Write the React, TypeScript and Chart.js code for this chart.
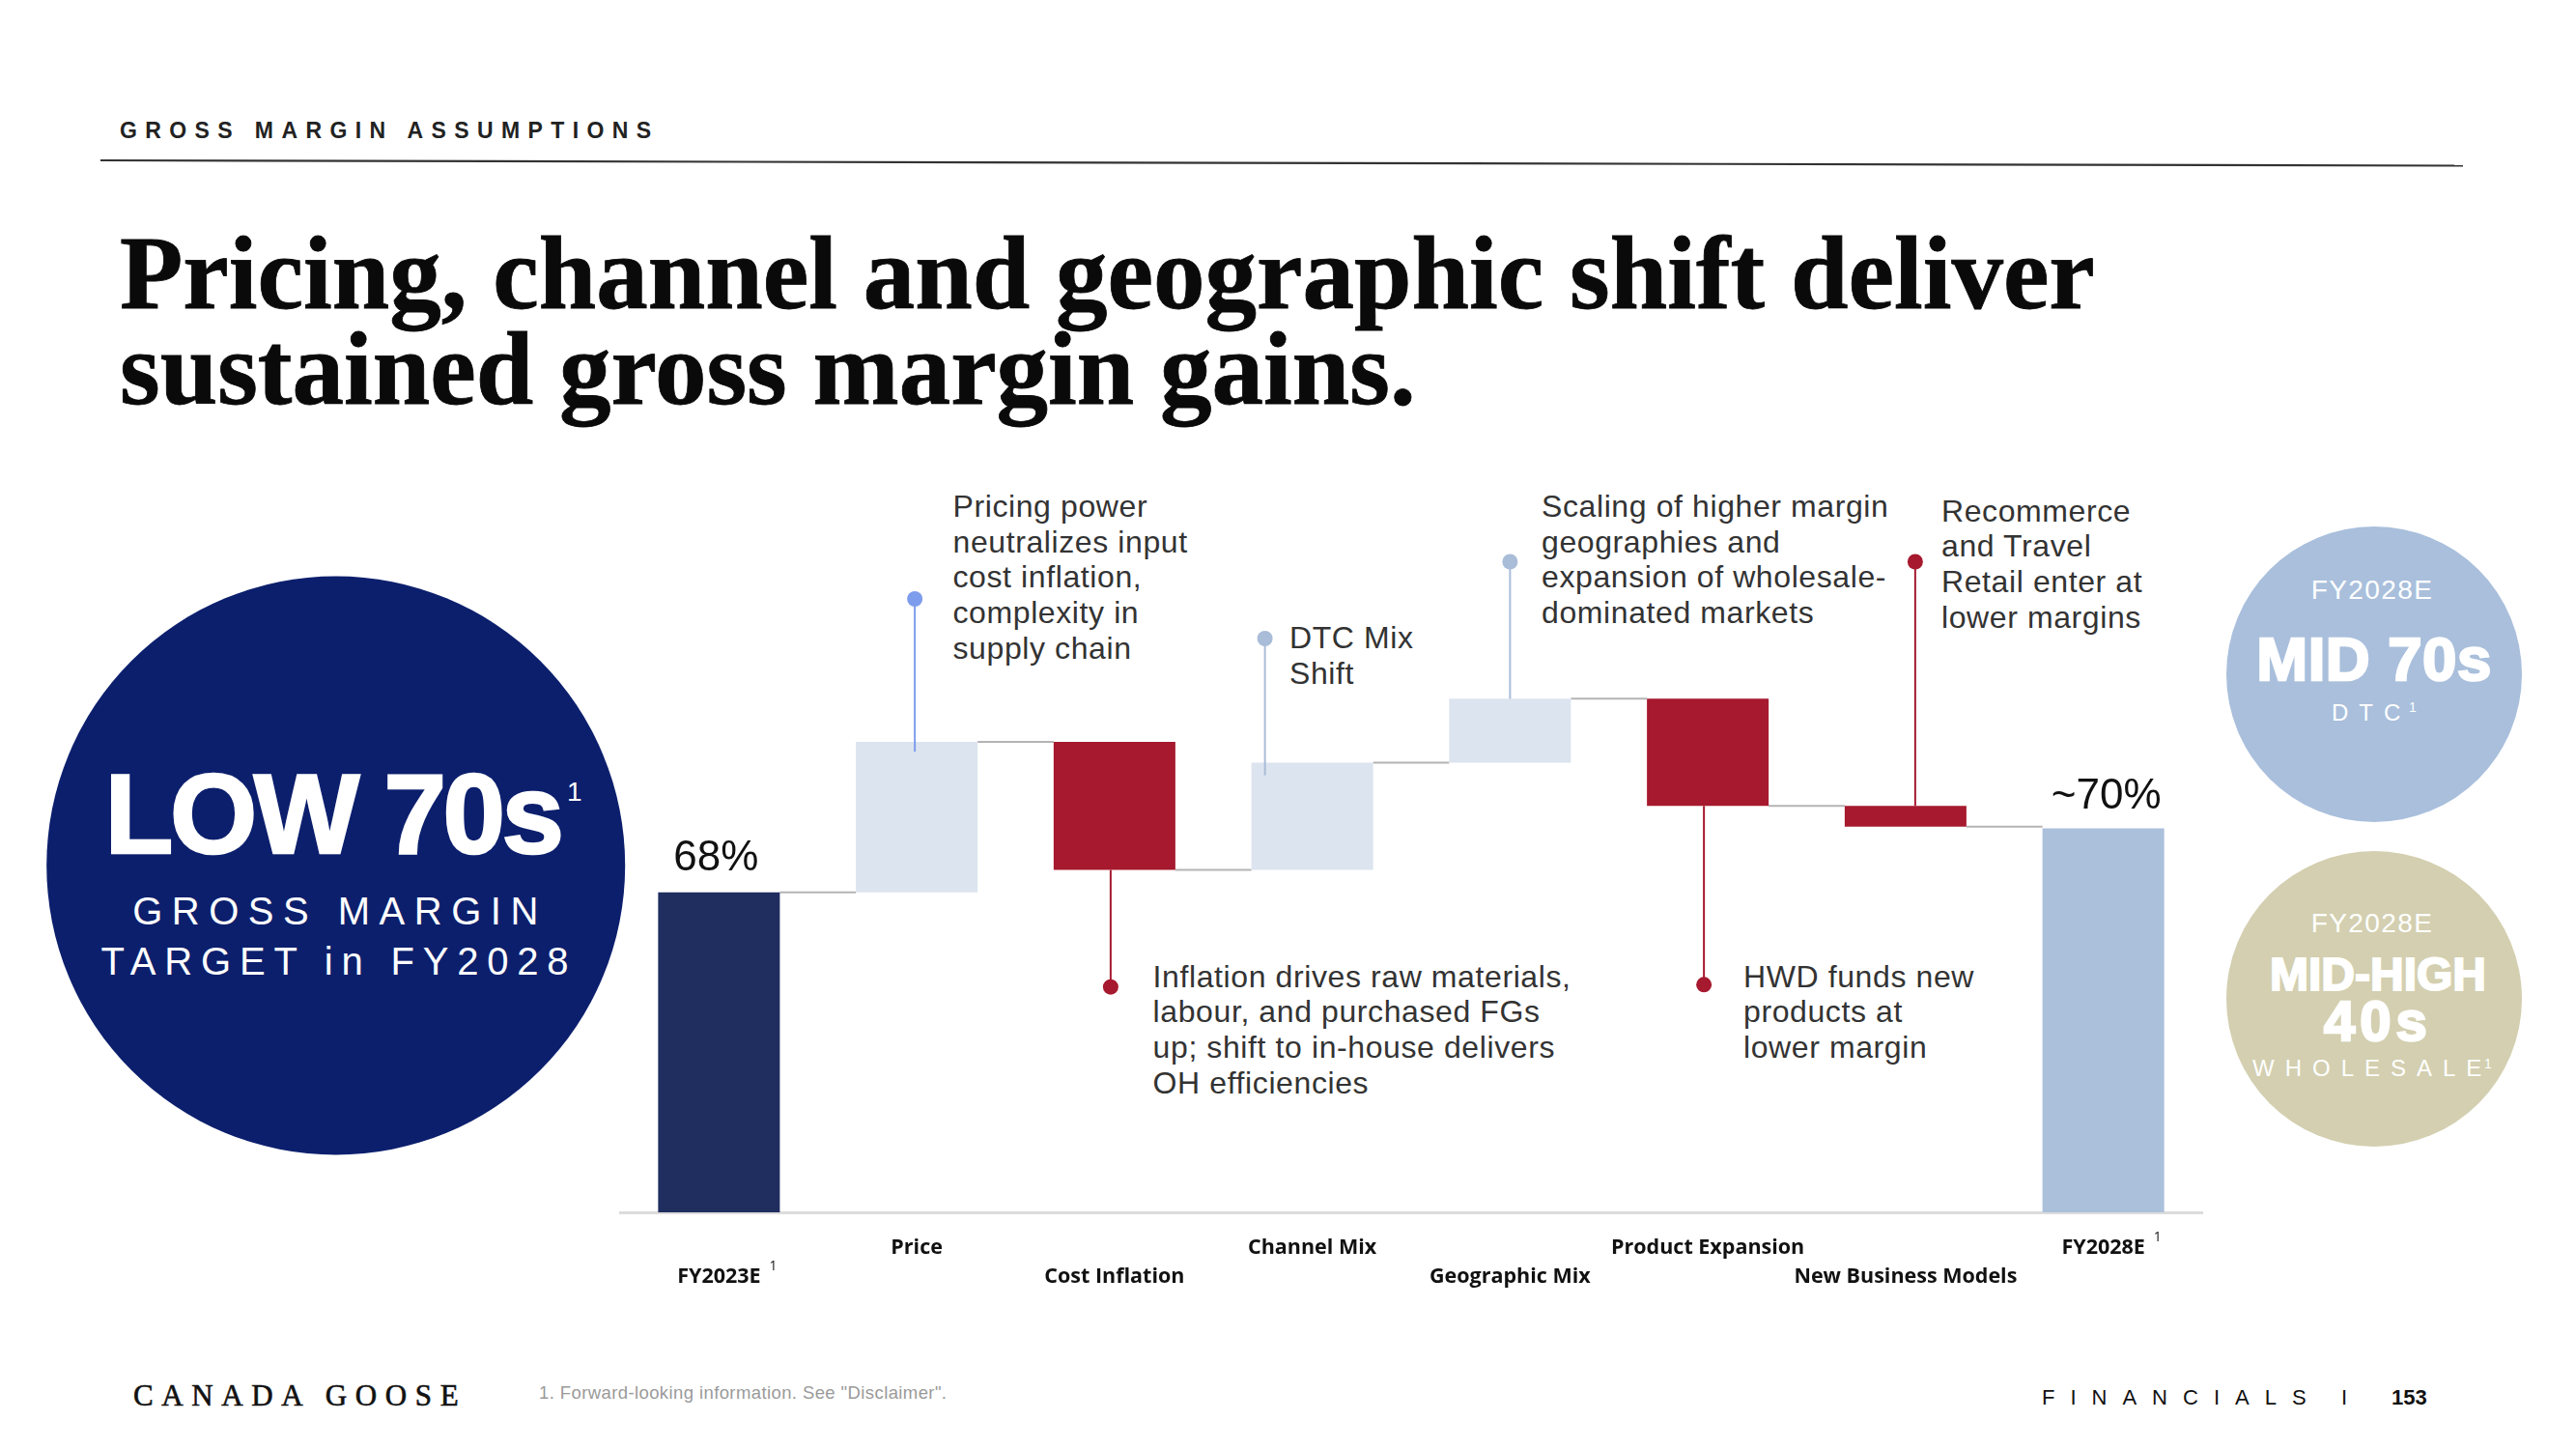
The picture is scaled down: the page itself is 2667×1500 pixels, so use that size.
import React, { useEffect, useRef } from "react";
import { Chart, registerables } from "chart.js";

Chart.register(...registerables);

// ---------------- data ----------------
const CATEGORIES = [
  "FY2023E",
  "Price",
  "Cost Inflation",
  "Channel Mix",
  "Geographic Mix",
  "Product Expansion",
  "New Business Models",
  "FY2028E",
];
const START_VALUE = 68;
const DELTAS = [4.7, -4.0, 3.35, 2.0, -3.35, -0.65];
const END_VALUE = 70;
const START_LABEL = "68%";
const END_LABEL = "~70%";
const FOOTNOTED = ["FY2023E", "FY2028E"];
const Y_MIN = 58;
const Y_MAX = 82;

const NOTE_TEXTS = [
  ["Pricing power", "neutralizes input", "cost inflation,", "complexity in", "supply chain"],
  ["Inflation drives raw materials,", "labour, and purchased FGs", "up; shift to in-house delivers", "OH efficiencies"],
  ["DTC Mix", "Shift"],
  ["Scaling of higher margin", "geographies and", "expansion of wholesale-", "dominated markets"],
  ["HWD funds new", "products at", "lower margin"],
  ["Recommerce", "and Travel", "Retail enter at", "lower margins"],
];
const NOTE_BARS = [1, 2, 3, 4, 5, 6];

// ---------------- layout / style ----------------
const CANVAS_LEFT = 600;
const CANVAS_TOP = 460;
const CANVAS_W = 1720;
const CANVAS_H = 900;
const PLOT_HEIGHT = 795;

const COLOR_START = "#1f2d5f";
const COLOR_UP = "#dce4ef";
const COLOR_DOWN = "#a6192e";
const COLOR_END = "#abc0db";

const TICK_SIZE = 21.5;
const TICK_LH = 30;
const TICK_PAD = 21.6;

const NOTE_LAYOUT = [
  { dx: -2, dotY: 620, overlap: 10, color: "#7d9ceb", textX: 986.5, textY: 535 },
  { dx: -4, dotY: 1021.7, overlap: 0, color: "#a6192e", textX: 1193.6, textY: 1021.6 },
  { dx: -49, dotY: 661, overlap: 13, color: "#a9bcd8", textX: 1335, textY: 671 },
  { dx: 0, dotY: 581.5, overlap: 0, color: "#a9bcd8", textX: 1596, textY: 535 },
  { dx: -4, dotY: 1019.3, overlap: 0, color: "#a6192e", textX: 1805, textY: 1021.6 },
  { dx: 10, dotY: 581.5, overlap: 0, color: "#a6192e", textX: 2010, textY: 539.5 },
];
const NOTE_LINE_H = 36.7;

// build floating bars
const FLOATING: [number, number][] = [];
const LEVELS: number[] = [];
(() => {
  FLOATING.push([Y_MIN, START_VALUE]);
  LEVELS.push(START_VALUE);
  let run = START_VALUE;
  DELTAS.forEach((d) => {
    FLOATING.push([run, run + d]);
    run += d;
    LEVELS.push(run);
  });
  FLOATING.push([Y_MIN, END_VALUE]);
  LEVELS.push(END_VALUE);
})();
const BAR_COLORS = [COLOR_START, ...DELTAS.map((d) => (d >= 0 ? COLOR_UP : COLOR_DOWN)), COLOR_END];

const waterfallPlugin = {
  id: "waterfallExtras",
  beforeDatasetsDraw(chart: any) {
    const meta = chart.getDatasetMeta(0);
    const ys = chart.scales.y;
    const ctx = chart.ctx;
    ctx.save();
    ctx.strokeStyle = "#b4b4b4";
    ctx.lineWidth = 2;
    for (let i = 0; i < meta.data.length - 1; i++) {
      const a = meta.data[i].getProps(["x", "width"], true);
      const b = meta.data[i + 1].getProps(["x", "width"], true);
      const py = ys.getPixelForValue(LEVELS[i]);
      ctx.beginPath();
      ctx.moveTo(a.x + a.width / 2, py);
      ctx.lineTo(b.x - b.width / 2, py);
      ctx.stroke();
    }
    ctx.restore();
  },
  afterDatasetsDraw(chart: any) {
    const meta = chart.getDatasetMeta(0);
    const ctx = chart.ctx;
    ctx.save();
    NOTE_BARS.forEach((bi, k) => {
      const L = NOTE_LAYOUT[k];
      const p = meta.data[bi].getProps(["x", "y", "base"], true);
      const top = Math.min(p.y, p.base);
      const bottom = Math.max(p.y, p.base);
      const x = p.x + L.dx;
      const dy = L.dotY - CANVAS_TOP;
      ctx.strokeStyle = L.color;
      ctx.fillStyle = L.color;
      ctx.lineWidth = 2;
      ctx.beginPath();
      if (dy < top) {
        ctx.moveTo(x, dy);
        ctx.lineTo(x, top + L.overlap);
      } else {
        ctx.moveTo(x, bottom - L.overlap);
        ctx.lineTo(x, dy);
      }
      ctx.stroke();
      ctx.beginPath();
      ctx.arc(x, dy, 8, 0, Math.PI * 2);
      ctx.fill();
    });
    // value labels
    ctx.fillStyle = "#111";
    ctx.font = "44px 'Liberation Sans', Arial, sans-serif";
    ctx.textAlign = "center";
    ctx.textBaseline = "alphabetic";
    const first = meta.data[0].getProps(["x", "y", "base"], true);
    const last = meta.data[meta.data.length - 1].getProps(["x", "y", "base"], true);
    ctx.fillText(START_LABEL, first.x - 3, Math.min(first.y, first.base) - 23);
    ctx.fillText(END_LABEL, last.x + 3, Math.min(last.y, last.base) - 21);
    ctx.restore();
  },
  afterDraw(chart: any) {
    const xs = chart.scales.x;
    const ctx = chart.ctx;
    ctx.save();
    ctx.fillStyle = "#111";
    ctx.textAlign = "left";
    ctx.textBaseline = "alphabetic";
    CATEGORIES.forEach((c, i) => {
      if (!FOOTNOTED.includes(c)) return;
      const px = xs.getPixelForTick(i);
      const row = i % 2 === 1 ? 0 : 1;
      const cy = xs.top + TICK_PAD + TICK_LH * (row + 0.5);
      ctx.font = `bold ${TICK_SIZE}px 'Open Sans', sans-serif`;
      const w = ctx.measureText(c).width;
      ctx.font = "14px 'Open Sans', sans-serif";
      ctx.fillText("1", px + w / 2 + 9, cy - 6.5);
    });
    ctx.restore();
  },
};

function T(props: any) {
  const { children, ...rest } = props;
  return <text {...rest}>{children}</text>;
}

export default function App() {
  const ref = useRef<HTMLCanvasElement>(null);

  useEffect(() => {
    if (!ref.current) return;
    const chart = new Chart(ref.current, {
      type: "bar",
      data: {
        labels: CATEGORIES.map((c, i) => (i % 2 === 1 ? [c, ""] : ["", c])),
        datasets: [
          {
            data: FLOATING as any,
            backgroundColor: BAR_COLORS,
            borderWidth: 0,
            borderSkipped: false,
            categoryPercentage: 1,
            barPercentage: 0.6154,
          },
        ],
      },
      options: {
        animation: false,
        responsive: false,
        devicePixelRatio: 1,
        events: [],
        layout: { padding: { left: 42, right: 40, top: 0, bottom: 0 } },
        plugins: { legend: { display: false }, tooltip: { enabled: false } },
        scales: {
          x: {
            grid: { display: false, drawTicks: false },
            border: { display: true, color: "#dcdcdc", width: 3 },
            ticks: {
              autoSkip: false,
              maxRotation: 0,
              minRotation: 0,
              padding: TICK_PAD,
              color: "#111",
              font: { family: "'Open Sans', sans-serif", weight: "bold", size: TICK_SIZE, lineHeight: TICK_LH / TICK_SIZE },
            },
            afterFit: (scale: any) => {
              scale.height = CANVAS_H - PLOT_HEIGHT;
            },
          },
          y: { display: false, min: Y_MIN, max: Y_MAX },
        },
      },
      plugins: [waterfallPlugin],
    } as any);
    return () => chart.destroy();
  }, []);

  const sans = "'Liberation Sans', Arial, sans-serif";
  const serif = "'Liberation Serif', 'Times New Roman', serif";

  return (
    <div style={{ position: "absolute", left: 0, top: 0, width: 2667, height: 1500, background: "#fff", overflow: "hidden" }}>
      <svg width={2667} height={1500} style={{ position: "absolute", left: 0, top: 0 }}>
        {/* header */}
        <T x={124} y={143.3} fontFamily={sans} fontWeight="bold" fontSize={23} letterSpacing={8.4} fill="#222">
          GROSS MARGIN ASSUMPTIONS
        </T>
        <line x1={104} y1={166} x2={2550} y2={171.5} stroke="#333" strokeWidth={2.2} />
        <T x={124} y={319.3} fontFamily={serif} fontWeight="bold" fontSize={107} fill="#0a0a0a" stroke="#0a0a0a" strokeWidth={0.8}>
          Pricing, channel and geographic shift deliver
        </T>
        <T x={124} y={418.3} fontFamily={serif} fontWeight="bold" fontSize={107} fill="#0a0a0a" stroke="#0a0a0a" strokeWidth={0.8}>
          sustained gross margin gains.
        </T>

        {/* left circle */}
        <circle cx={347.7} cy={896} r={299.5} fill="#0c1f6d" />
        <T x={344.5} y={882.7} textAnchor="middle" fontFamily={sans} fontWeight="bold" fontSize={116} letterSpacing={-3.5} fill="#fff" stroke="#fff" strokeWidth={2.5}>
          LOW 70s
        </T>
        <T x={587} y={829} fontFamily={sans} fontSize={28} fill="#fff">1</T>
        <T x={352} y={957} textAnchor="middle" fontFamily={sans} fontSize={40} letterSpacing={9.5} fill="#fff">
          GROSS MARGIN
        </T>
        <T x={351} y={1009} textAnchor="middle" fontFamily={sans} fontSize={40} letterSpacing={8.8} fill="#fff">
          TARGET in FY2028
        </T>

        {/* right circles */}
        <circle cx={2458} cy={698} r={153} fill="#a9bfdc" />
        <T x={2456} y={619.7} textAnchor="middle" fontFamily={sans} fontSize={28} letterSpacing={1.4} fill="#fff">FY2028E</T>
        <T x={2458} y={704.3} textAnchor="middle" fontFamily={sans} fontWeight="bold" fontSize={63.5} letterSpacing={0.5} fill="#fff" stroke="#fff" strokeWidth={2.5}>MID 70s</T>
        <T x={2414} y={745.5} fontFamily={sans} fontSize={24} letterSpacing={11} fill="#fff">DTC</T>
        <T x={2494} y={737} fontFamily={sans} fontSize={14} fill="#fff">1</T>

        <circle cx={2458} cy={1034} r={153} fill="#d3cfb0" />
        <T x={2456} y={964.5} textAnchor="middle" fontFamily={sans} fontSize={28} letterSpacing={1.4} fill="#fff">FY2028E</T>
        <T x={2462} y={1025} textAnchor="middle" fontFamily={sans} fontWeight="bold" fontSize={48} fill="#fff" stroke="#fff" strokeWidth={2}>MID-HIGH</T>
        <T x={2462} y={1077} textAnchor="middle" fontFamily={sans} fontWeight="bold" fontSize={58} letterSpacing={5} fill="#fff" stroke="#fff" strokeWidth={2.5}>40s</T>
        <T x={2332} y={1114} fontFamily={sans} fontSize={24} letterSpacing={11} fill="#fff">WHOLESALE</T>
        <T x={2572} y={1106} fontFamily={sans} fontSize={14} fill="#fff">1</T>

        {/* annotations */}
        {NOTE_TEXTS.map((lines, k) =>
          lines.map((ln, j) => (
            <T
              key={`${k}-${j}`}
              x={NOTE_LAYOUT[k].textX}
              y={NOTE_LAYOUT[k].textY + j * NOTE_LINE_H}
              fontFamily={sans}
              fontSize={32}
              letterSpacing={0.6}
              fill="#333"
            >
              {ln}
            </T>
          ))
        )}

        {/* footer */}
        <T x={138} y={1455} fontFamily={serif} fontSize={31} letterSpacing={8.6} fill="#111" stroke="#111" strokeWidth={0.6}>CANADA GOOSE</T>
        <T x={558} y={1447.7} fontFamily={sans} fontSize={18.5} letterSpacing={0.4} fill="#9a9a9a">
          1. Forward-looking information. See "Disclaimer".
        </T>
        <T x={2114} y={1454} fontFamily={sans} fontSize={22} letterSpacing={16} fill="#111">FINANCIALS</T>
        <T x={2424} y={1454} fontFamily={sans} fontSize={22} fill="#111">I</T>
        <T x={2476} y={1454} fontFamily={sans} fontWeight="bold" fontSize={22} fill="#111">153</T>
      </svg>
      <canvas
        ref={ref}
        width={CANVAS_W}
        height={CANVAS_H}
        style={{ position: "absolute", left: CANVAS_LEFT, top: CANVAS_TOP, width: CANVAS_W, height: CANVAS_H }}
      />
    </div>
  );
}
